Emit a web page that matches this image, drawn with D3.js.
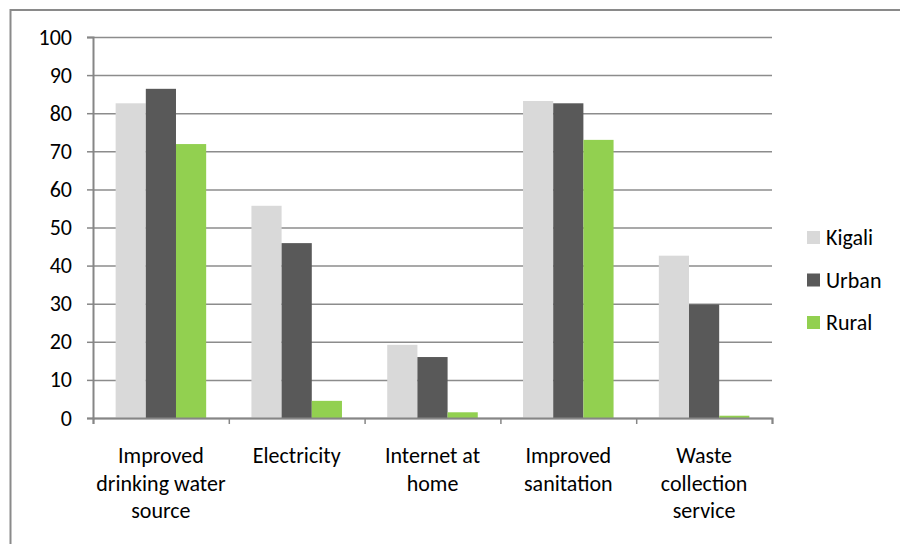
<!DOCTYPE html>
<html>
  <head>
    <script src="https://d3js.org/d3.v7.min.js"></script>
    <meta charset="utf-8">
    <title>Access to services</title>
    <style>
      body { margin: 0; background: #fff; }
      svg { display: block; }
      text { font-family: Carlito, Calibri, Lato, sans-serif; fill: #000; }
    </style>
  </head>
  <body>
    <script>
      // data
      const categories = [
        "Improved drinking water source",
        "Electricity",
        "Internet at home",
        "Improved sanitation",
        "Waste collection service"
      ];
      const categoryLines = [
        ["Improved", "drinking water", "source"],
        ["Electricity"],
        ["Internet at", "home"],
        ["Improved", "sanitation"],
        ["Waste", "collection", "service"]
      ];
      const seriesNames = ["Kigali", "Urban", "Rural"];
      const kigali = [82.6, 55.7, 19.2, 83.2, 42.6];
      const urban = [86.4, 45.9, 16.0, 82.6, 29.8];
      const rural = [71.9, 4.5, 1.5, 73.0, 0.6];
      const yTicks = [0, 10, 20, 30, 40, 50, 60, 70, 80, 90, 100];
      const colors = ["#d9d9d9", "#595959", "#92d050"];

      const values = [kigali, urban, rural];
      const W = 900, H = 544;
      const plotL = 93, plotR = 772, plotT = 37, plotB = 418;
      const fontSize = 22;

      const svg = d3.select("body").append("svg")
        .attr("width", W)
        .attr("height", H);

      // chart border (runs off the right and bottom edges)
      svg.append("rect")
        .attr("x", 10.5).attr("y", 10)
        .attr("width", 950).attr("height", 600)
        .attr("fill", "none")
        .attr("stroke", "#8a8a8a")
        .attr("stroke-width", 2);

      const y = d3.scaleLinear().domain([0, 100]).range([plotB, plotT]);
      const x0 = d3.scaleBand().domain(categories).range([plotL, plotR]).padding(0);
      const x1 = d3.scaleBand().domain(seriesNames)
        .range([0, x0.bandwidth()])
        .paddingInner(0)
        .paddingOuter(0.75);

      // gridlines
      const grid = svg.append("g")
        .attr("transform", `translate(${plotL},0)`)
        .call(d3.axisLeft(y).tickValues(yTicks).tickSize(-(plotR - plotL)).tickFormat(""));
      grid.select(".domain").remove();
      grid.selectAll("line").attr("stroke", "#8c8c8c").attr("stroke-width", 1.5);

      // bars
      categories.forEach((c, i) => {
        svg.append("g")
          .selectAll("rect")
          .data(seriesNames.map((s, j) => ({ s: s, v: values[j][i], j: j })))
          .enter()
          .append("rect")
          .attr("x", d => x0(c) + x1(d.s))
          .attr("y", d => y(d.v))
          .attr("width", x1.bandwidth())
          .attr("height", d => plotB - y(d.v))
          .attr("fill", d => colors[d.j]);
      });

      // y axis
      const yAxis = svg.append("g")
        .attr("transform", `translate(${plotL},0)`)
        .call(d3.axisLeft(y).tickValues(yTicks).tickSize(6).tickPadding(15));
      yAxis.select(".domain").attr("stroke", "#868686").attr("stroke-width", 2);
      yAxis.selectAll("line").attr("stroke", "#868686").attr("stroke-width", 1.5);
      yAxis.selectAll("text")
        .style("font-family", "Carlito, Calibri, Lato, sans-serif")
        .attr("font-size", fontSize)
        .attr("fill", "#000");

      // x axis with ticks at category boundaries
      const xb = d3.scaleLinear().domain([0, categories.length]).range([plotL, plotR]);
      const xAxis = svg.append("g")
        .attr("transform", `translate(0,${plotB})`)
        .call(d3.axisBottom(xb).tickValues(d3.range(categories.length + 1)).tickSize(6).tickFormat(""));
      xAxis.select(".domain").attr("stroke", "#868686").attr("stroke-width", 2);
      xAxis.selectAll("line").attr("stroke", "#868686").attr("stroke-width", 1.5);

      // category labels
      categories.forEach((c, i) => {
        const t = svg.append("text")
          .attr("text-anchor", "middle")
          .attr("font-size", fontSize)
          .attr("y", 463);
        categoryLines[i].forEach((line, k) => {
          t.append("tspan")
            .attr("x", x0(c) + x0.bandwidth() / 2)
            .attr("dy", k === 0 ? 0 : 27.5)
            .text(line);
        });
      });

      // legend
      const legend = svg.append("g")
        .selectAll("g")
        .data(seriesNames)
        .enter()
        .append("g")
        .attr("transform", (d, i) => `translate(807,${237.5 + i * 42.5})`);
      legend.append("rect")
        .attr("x", 0).attr("y", -6.5)
        .attr("width", 13).attr("height", 13)
        .attr("fill", (d, i) => colors[i]);
      legend.append("text")
        .attr("x", 19)
        .attr("dy", "0.35em")
        .attr("font-size", fontSize)
        .text(d => d);
    </script>
  </body>
</html>
